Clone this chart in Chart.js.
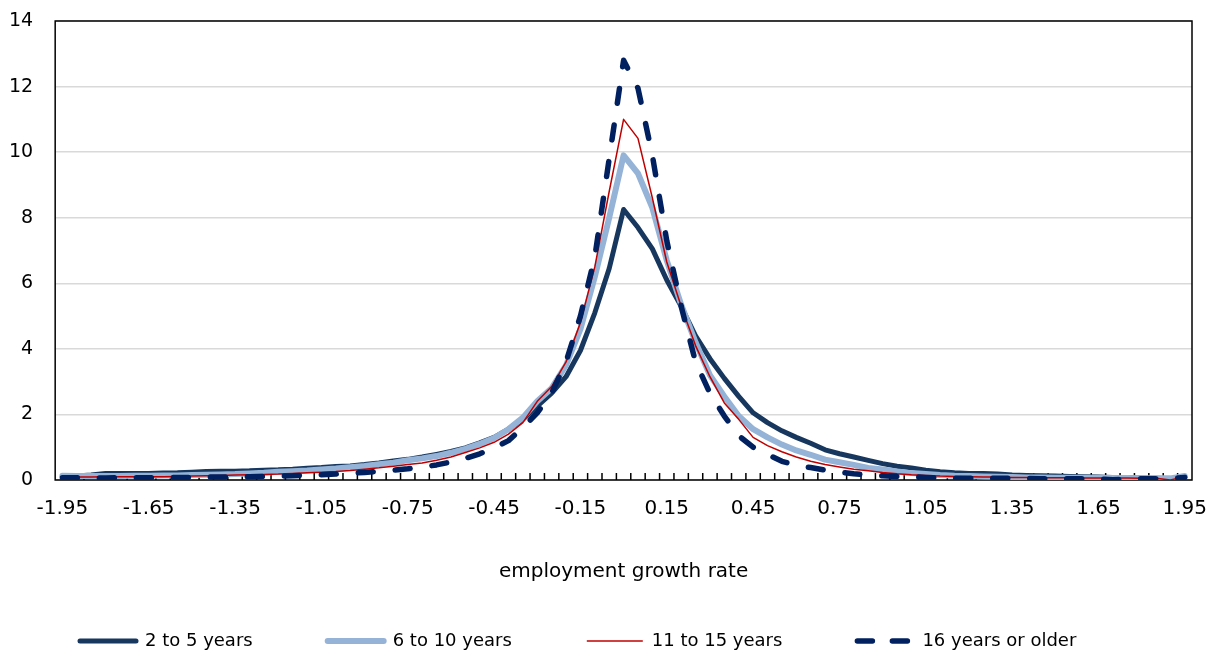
<!DOCTYPE html>
<html>
<head>
<meta charset="utf-8">
<script src="https://cdn.jsdelivr.net/npm/chart.js@4.4.1/dist/chart.umd.min.js"></script>
<style>
  html, body { margin: 0; padding: 0; background: #fff; }
  #wrap { width: 1211px; height: 654px; position: relative; }
</style>
</head>
<body>
<div id="wrap"><canvas id="chart-growth"></canvas></div>
<script>
// categories: employment growth rate, step 0.05
var categories = [];
for (var k = -39; k <= 39; k++) categories.push((k * 0.05).toFixed(2));

var years2to5 = [
  0.10, 0.12, 0.15, 0.20, 0.20, 0.20, 0.20, 0.21, 0.22, 0.24,
  0.26, 0.27, 0.27, 0.28, 0.30, 0.31, 0.33, 0.36, 0.38, 0.41,
  0.43, 0.47, 0.52, 0.58, 0.63, 0.70, 0.78, 0.87, 0.98, 1.13,
  1.30, 1.55, 1.85, 2.25, 2.65, 3.15, 3.95, 5.10, 6.45, 8.25,
  7.70, 7.05, 6.10, 5.30, 4.40, 3.70, 3.10, 2.55, 2.05, 1.75,
  1.50, 1.30, 1.12, 0.92, 0.80, 0.70, 0.60, 0.50, 0.42, 0.37,
  0.30, 0.25, 0.22, 0.20, 0.20, 0.18, 0.15, 0.14, 0.13, 0.12,
  0.11, 0.10, 0.09, 0.08, 0.07, 0.06, 0.05, 0.04, 0.10
];
var years6to10 = [
  0.13, 0.12, 0.12, 0.12, 0.12, 0.13, 0.13, 0.14, 0.14, 0.15,
  0.16, 0.17, 0.18, 0.20, 0.22, 0.25, 0.27, 0.29, 0.32, 0.35,
  0.39, 0.43, 0.48, 0.53, 0.60, 0.66, 0.73, 0.83, 0.95, 1.10,
  1.28, 1.55, 1.90, 2.40, 2.80, 3.50, 4.60, 6.20, 8.00, 9.90,
  9.35, 8.30, 6.70, 5.35, 4.20, 3.20, 2.55, 1.95, 1.55, 1.30,
  1.08, 0.90, 0.77, 0.62, 0.54, 0.46, 0.37, 0.32, 0.26, 0.21,
  0.18, 0.15, 0.13, 0.12, 0.11, 0.10, 0.09, 0.08, 0.08, 0.07,
  0.07, 0.07, 0.06, 0.06, 0.06, 0.05, 0.05, 0.05, 0.12
];
var years11to15 = [
  0.08, 0.09, 0.09, 0.10, 0.10, 0.10, 0.10, 0.10, 0.11, 0.12,
  0.13, 0.14, 0.15, 0.16, 0.17, 0.18, 0.20, 0.22, 0.24, 0.26,
  0.29, 0.33, 0.37, 0.42, 0.47, 0.52, 0.60, 0.70, 0.84, 0.98,
  1.15, 1.40, 1.75, 2.40, 2.85, 3.60, 4.80, 6.50, 8.80, 11.00,
  10.42, 8.60, 6.65, 5.30, 4.10, 3.15, 2.35, 1.85, 1.30, 1.05,
  0.86, 0.70, 0.57, 0.47, 0.40, 0.33, 0.28, 0.23, 0.19, 0.16,
  0.14, 0.12, 0.11, 0.10, 0.09, 0.09, 0.08, 0.08, 0.07, 0.07,
  0.07, 0.06, 0.06, 0.06, 0.06, 0.05, 0.05, 0.00, 0.10
];
var years16plus = [
  0.07, 0.07, 0.06, 0.06, 0.07, 0.07, 0.07, 0.08, 0.08, 0.08,
  0.09, 0.09, 0.10, 0.10, 0.11, 0.12, 0.13, 0.15, 0.16, 0.18,
  0.21, 0.23, 0.26, 0.30, 0.34, 0.39, 0.46, 0.55, 0.66, 0.80,
  0.98, 1.20, 1.60, 2.05, 2.65, 3.60, 5.00, 6.80, 9.80, 12.80,
  11.95, 9.90, 7.30, 5.30, 3.60, 2.65, 1.95, 1.35, 1.00, 0.78,
  0.57, 0.45, 0.38, 0.30, 0.24, 0.19, 0.15, 0.13, 0.11, 0.10,
  0.08, 0.06, 0.05, 0.05, 0.05, 0.05, 0.05, 0.05, 0.04, 0.04,
  0.04, 0.04, 0.03, 0.01, 0.02, 0.04, 0.04, 0.04, 0.08
];
var yTicks = [0, 2, 4, 6, 8, 10, 12, 14];

Chart.defaults.font.family = "'DejaVu Sans', sans-serif";
Chart.defaults.color = "#000";

// plot frame + small inner tick marks on the x axis
var frame = {
  id: 'frame',
  beforeDatasetsDraw: function(chart) {
    var ctx = chart.ctx, a = chart.chartArea, x = chart.scales.x;
    ctx.save();
    ctx.strokeStyle = "#000";
    ctx.lineWidth = 1.5;
    ctx.beginPath();
    for (var i = 1; i < categories.length; i++) {
      var px = (x.getPixelForTick(i - 1) + x.getPixelForTick(i)) / 2;
      ctx.moveTo(px, a.bottom);
      ctx.lineTo(px, a.bottom - 7);
    }
    ctx.stroke();
    ctx.strokeRect(a.left, a.top, a.right - a.left, a.bottom - a.top);
    ctx.restore();
  }
};

// legend samples: keep the dataset's dash and cap
function legendItems(chart) {
  var items = Chart.defaults.plugins.legend.labels.generateLabels(chart);
  items.forEach(function(it) {
    var ds = chart.data.datasets[it.datasetIndex];
    it.lineDash = ds.legendDash || [];
    it.lineCap = ds.borderCapStyle || 'butt';
    it.lineWidth = ds.borderWidth;
    it.strokeStyle = ds.borderColor;
  });
  return items.sort(function(a, b) { return a.datasetIndex - b.datasetIndex; });
}

var ctg = document.getElementById("chart-growth");
var chartGrowth = new Chart(ctg, {
  type: 'line',
  data: {
    labels: categories,
    datasets: [
      {
        label: "2 to 5 years",
        data: years2to5,
        borderColor: "#17375E",
        backgroundColor: "#17375E",
        borderWidth: 5,
        borderCapStyle: 'round',
        order: 4
      },
      {
        label: "6 to 10 years",
        data: years6to10,
        borderColor: "#95B3D7",
        backgroundColor: "#95B3D7",
        borderWidth: 6,
        borderCapStyle: 'round',
        order: 3
      },
      {
        label: "11 to 15 years",
        data: years11to15,
        borderColor: "#C00000",
        backgroundColor: "#C00000",
        borderWidth: 1.5,
        borderCapStyle: 'butt',
        order: 2
      },
      {
        label: "16 years or older",
        data: years16plus,
        borderColor: "#002060",
        backgroundColor: "#002060",
        borderWidth: 5.5,
        borderDash: [15, 22],
        legendDash: [15, 20],
        borderCapStyle: 'round',
        order: 1
      }
    ]
  },
  options: {
    responsive: true,
    maintainAspectRatio: false,
    animation: false,
    elements: {
      point: { radius: 0, hoverRadius: 0 },
      line: { tension: 0, borderJoinStyle: 'round' }
    },
    layout: {
      padding: { top: 21, right: 19, left: 5, bottom: 0 }
    },
    plugins: {
      tooltip: { enabled: false },
      legend: {
        position: 'bottom',
        align: 'start',
        maxHeight: 97,
        labels: {
          usePointStyle: true,
          pointStyle: 'line',
          pointStyleWidth: 56,
          padding: 75,
          color: "#000",
          font: { size: 18 },
          generateLabels: legendItems
        }
      }
    },
    scales: {
      x: {
        offset: true,
        grid: {
          display: true,
          drawOnChartArea: false,
          drawTicks: true,
          tickLength: 14,
          tickColor: "rgba(0,0,0,0)"
        },
        border: { display: false },
        ticks: {
          autoSkip: false,
          maxRotation: 0,
          minRotation: 0,
          padding: 3,
          color: "#000",
          font: { size: 20 },
          callback: function(value, index) {
            return index % 6 === 0 ? categories[index] : '';
          }
        },
        title: {
          display: true,
          text: "employment growth rate",
          color: "#000",
          font: { size: 20 },
          padding: { top: 36, bottom: -27 }
        }
      },
      y: {
        min: 0,
        max: 14,
        afterBuildTicks: function(scale) {
          scale.ticks = yTicks.map(function(v) { return { value: v }; });
        },
        grid: {
          color: "#D9D9D9",
          lineWidth: 1.5,
          drawTicks: true,
          tickLength: 18,
          tickColor: "rgba(0,0,0,0)"
        },
        border: { display: false },
        ticks: {
          padding: 4,
          color: "#000",
          font: { size: 19 }
        }
      }
    }
  },
  plugins: [frame]
});
</script>
</body>
</html>
